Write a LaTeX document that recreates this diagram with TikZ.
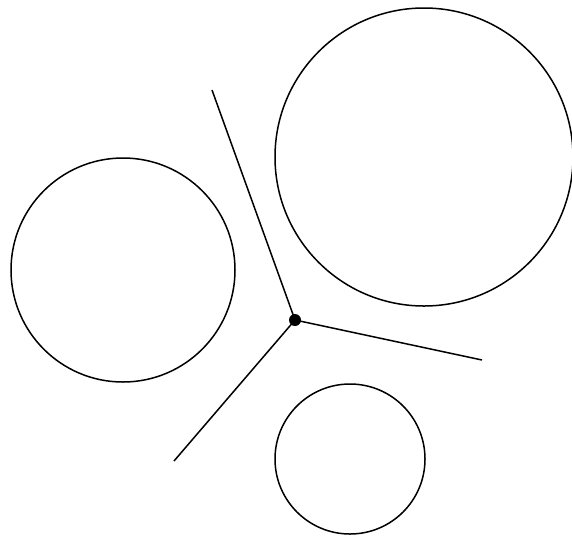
\documentclass[tikz,border=0pt]{standalone}
\usepackage{tikz}

\begin{document}
\begin{tikzpicture}[x=1pt, y=-1pt, line width=1.5pt]

% frame of the picture
\useasboundingbox (0,0) rectangle (572,539);

% circles
\draw (123,270) circle (112);
\draw (424,157) circle (149);
\draw (350,459) circle (75);

% junction and its three branches
\coordinate (hub) at (295,320);
\coordinate (up) at (212,90);
\coordinate (right) at (482,360);
\coordinate (down) at (174,461);
\draw (hub) -- (up);
\draw (hub) -- (right);
\draw (hub) -- (down);
\fill (hub) circle (6);

\end{tikzpicture}
\end{document}
